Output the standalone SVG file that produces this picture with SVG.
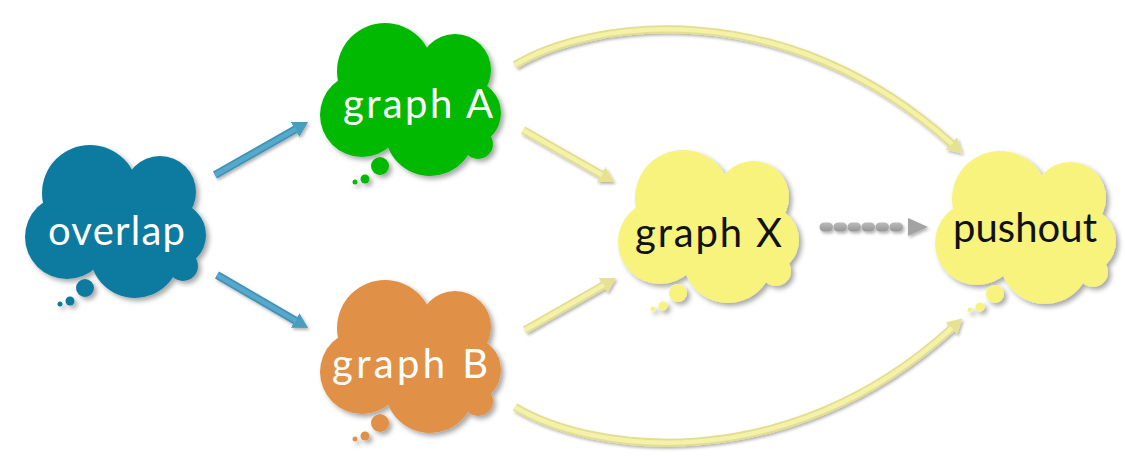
<svg xmlns="http://www.w3.org/2000/svg" width="1127" height="474" viewBox="0 0 1127 474">
<style>
.lbl{font-family:Lato,"Liberation Sans",sans-serif;font-size:40px;text-anchor:middle}
.w{fill:#ffffff}
.k{fill:#111111}
.ya{fill:none;stroke:#E2DE8E;stroke-width:8}
.yb{fill:none;stroke:#F4F1A8;stroke-width:4.5}
.ba{fill:none;stroke:#3F92B6;stroke-width:8}
.bb{fill:none;stroke:#56A9CA;stroke-width:4.5}
</style>
<defs>
<filter id="sh" x="-20%" y="-20%" width="150%" height="150%">
<feDropShadow dx="3" dy="3" stdDeviation="2.5" flood-color="#000" flood-opacity="0.35"/>
</filter>
<filter id="ash" x="-20%" y="-20%" width="150%" height="150%">
<feDropShadow dx="1.5" dy="2" stdDeviation="1.5" flood-color="#000" flood-opacity="0.3"/>
</filter>
<g id="cloudShape">
<circle cx="65" cy="48" r="48"/>
<circle cx="135" cy="47" r="36"/>
<circle cx="148" cy="90" r="33"/>
<circle cx="158" cy="121" r="15"/>
<circle cx="110" cy="108" r="45"/>
<circle cx="42" cy="92" r="42"/>
<circle cx="95" cy="80" r="50"/>
<circle cx="60" cy="143" r="9"/>
<circle cx="45" cy="156" r="4.5"/>
<circle cx="35" cy="159" r="2.5"/>
</g>
<marker id="yh" markerUnits="userSpaceOnUse" markerWidth="17" markerHeight="17" viewBox="0 0 17 17" refX="1" refY="8.5" orient="auto">
<path d="M0,0 L15,8.5 L0,17 z" fill="#E6E292"/>
</marker>
<marker id="bh" markerUnits="userSpaceOnUse" markerWidth="17" markerHeight="17" viewBox="0 0 17 17" refX="1" refY="8.5" orient="auto">
<path d="M0,0 L15,8.5 L0,17 z" fill="#4A9DBF"/>
</marker>
<linearGradient id="gg" gradientUnits="userSpaceOnUse" x1="0" y1="222" x2="0" y2="232">
<stop offset="0" stop-color="#BEBEBE"/>
<stop offset="1" stop-color="#939393"/>
</linearGradient>
</defs>
<rect width="1127" height="474" fill="#ffffff"/>

<g id="connectors" filter="url(#ash)">
<path class="ba" d="M215,175 L296,129" marker-end="url(#bh)"/>
<path class="bb" d="M215,175 L296,129"/>
<path class="ba" d="M217,275 L296,321" marker-end="url(#bh)"/>
<path class="bb" d="M217,275 L296,321"/>
<path class="ya" d="M523,130 L602,175" marker-end="url(#yh)"/>
<path class="yb" d="M523,130 L602,175"/>
<path class="ya" d="M525,330 L604,285" marker-end="url(#yh)"/>
<path class="yb" d="M525,330 L604,285"/>
<path class="ya" d="M515,65 C590,20 785,-8 952,144" marker-end="url(#yh)"/>
<path class="yb" d="M515,65 C590,20 785,-8 952,144"/>
<path class="ya" d="M515,407 C590,452 785,480 952,328" marker-end="url(#yh)"/>
<path class="yb" d="M515,407 C590,452 785,480 952,328"/>
<g id="dashed">
<path d="M824,227 L900,227" fill="none" stroke="url(#gg)" stroke-width="9" stroke-linecap="round" stroke-dasharray="4.5 9.5"/>
<path d="M908,218 L928,227 L908,236 z" fill="#A3A3A3"/>
</g>
</g>

<g id="overlap">
<use href="#cloudShape" transform="translate(25,145)" fill="#0A7AA0" filter="url(#sh)"/>
<text class="lbl w" x="116.5" y="245" textLength="137">overlap</text>
</g>
<g id="graphA">
<use href="#cloudShape" transform="translate(320,23)" fill="#00B900" filter="url(#sh)"/>
<text class="lbl w" x="418" y="118" textLength="150">graph A</text>
</g>
<g id="graphB">
<use href="#cloudShape" transform="translate(320,280)" fill="#E09146" filter="url(#sh)"/>
<text class="lbl w" x="410" y="378" textLength="156">graph B</text>
</g>
<g id="graphX">
<use href="#cloudShape" transform="translate(618,150)" fill="#F7F37B" filter="url(#sh)"/>
<text class="lbl k" x="708.5" y="247" textLength="147">graph X</text>
</g>
<g id="pushout">
<use href="#cloudShape" transform="translate(935,151)" fill="#F7F37B" filter="url(#sh)"/>
<text class="lbl k" x="1025" y="242" textLength="144">pushout</text>
</g>
</svg>
